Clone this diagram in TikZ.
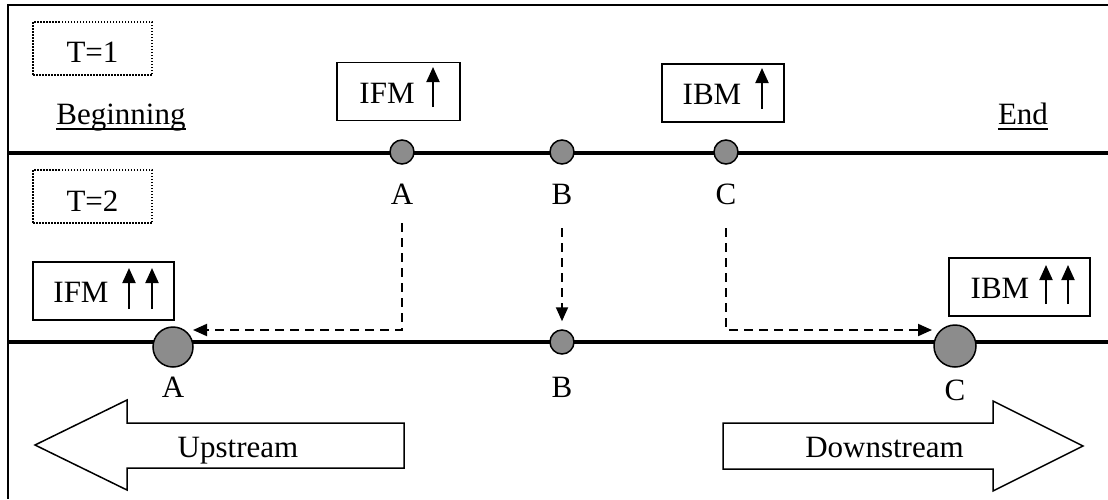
\documentclass[tikz,border=0pt]{standalone}
\usepackage{fontspec}
\setmainfont{Liberation Serif}
\usetikzlibrary{arrows.meta}
\definecolor{dotfill}{RGB}{140,140,140}
\begin{document}
\begin{tikzpicture}[x=1pt,y=-1pt,
  lbl/.style={inner sep=0pt,font=\fontsize{31}{36}\selectfont},
  frame/.style={line width=2pt},
  divider/.style={line width=3.5pt},
  tagbox/.style={draw,line width=1.5pt,dash pattern=on 1.5pt off 1.5pt,minimum width=119pt,minimum height=53pt,inner sep=0pt},
  valbox/.style={draw,line width=1.5pt,minimum height=58pt,inner sep=0pt},
  dot/.style={circle,draw,line width=1.5pt,fill=dotfill,inner sep=0pt},
  rise/.style={line width=2pt,-{Triangle[length=15pt,width=13pt]}},
  conn/.style={line width=2pt,dash pattern=on 9pt off 6pt,-{Triangle[length=14pt,width=12pt]}},
  bigarrow/.style={draw,line width=1.5pt,line join=miter,fill=white},
  uline/.style={line width=2pt}]
\useasboundingbox (0,0) rectangle (1108,499);

% frame and time dividers
\draw[frame] (1108,5) -- (8,5) -- (8,499);
\draw[divider] (8,153) -- (1108,153);
\draw[divider] (8,342) -- (1108,342);

% time tags
\node[tagbox] (t1) at (92.5,48.5) {};
\node[lbl,anchor=base] at (92.5,62) {T=1};
\node[tagbox] (t2) at (92.5,196.5) {};
\node[lbl,anchor=base] at (92.5,211) {T=2};

% beginning / end
\node[lbl,anchor=base] (beg) at (121,124) {Beginning};
\draw[uline] ([yshift=-5pt]beg.base west) -- ([yshift=-5pt]beg.base east);
\node[lbl,anchor=base] (fin) at (1023,124) {End};
\draw[uline] ([yshift=-5pt]fin.base west) -- ([yshift=-5pt]fin.base east);

% T=1 indicators
\node[valbox,minimum width=123pt] (ifm1) at (398.5,91.5) {};
\node[lbl,anchor=base] at (387,103) {IFM};
\draw[rise] (433,107) -- (433,67);
\node[valbox,minimum width=122pt] (ibm1) at (723,93) {};
\node[lbl,anchor=base] at (712,104) {IBM};
\draw[rise] (762,109) -- (762,68);

% T=1 positions
\node[dot,minimum size=24pt] (a1) at (402,152) {};
\node[dot,minimum size=24pt] (b1) at (562,152) {};
\node[dot,minimum size=24pt] (c1) at (726,152) {};
\node[lbl,anchor=base] (labA1) at (402,204) {A};
\node[lbl,anchor=base] (labB1) at (562,204) {B};
\node[lbl,anchor=base] (labC1) at (726,204) {C};

% T=2 indicators
\node[valbox,minimum width=141pt] (ifm2) at (103.5,291) {};
\node[lbl,anchor=base] at (81,302) {IFM};
\draw[rise] (129,309) -- (129,268);
\draw[rise] (152,309) -- (152,268);
\node[valbox,minimum width=141pt] (ibm2) at (1019.5,287) {};
\node[lbl,anchor=base] at (1000,298) {IBM};
\draw[rise] (1046,304) -- (1046,265);
\draw[rise] (1068,304) -- (1068,265);

% T=2 positions
\node[dot,minimum size=40pt] (a2) at (173,347) {};
\node[dot,minimum size=24pt] (b2) at (562,342) {};
\node[dot,minimum size=42pt] (c2) at (955,346) {};
\node[lbl,anchor=base] (labA2) at (173,397) {A};
\node[lbl,anchor=base] (labB2) at (562,397) {B};
\node[lbl,anchor=base] (labC2) at (955,400) {C};

% movements between the two periods
\coordinate (aBend) at (402,330);
\coordinate (aTip) at (193,330);
\coordinate (cBend) at (726,330);
\coordinate (cTip) at (932,330);
\draw[conn] ([yshift=-19pt]labA1.base) -- (aBend) -- (aTip);
\draw[conn] ([yshift=-24pt]labB1.base) -- ([yshift=8pt]b2.north);
\draw[conn] ([yshift=-24pt]labC1.base) -- (cBend) -- (cTip);

% direction arrows
\draw[bigarrow] (35,445) -- (127,400) -- (127,423) -- (404,423) -- (404,468) -- (127,468) -- (127,490) -- cycle;
\node[lbl,anchor=base] (up) at (238,457) {Upstream};
\draw[bigarrow] (723,423) -- (993,423) -- (993,401) -- (1083,446) -- (993,491) -- (993,469) -- (723,469) -- cycle;
\node[lbl,anchor=base] (down) at (884.5,457) {Downstream};
\end{tikzpicture}
\end{document}
